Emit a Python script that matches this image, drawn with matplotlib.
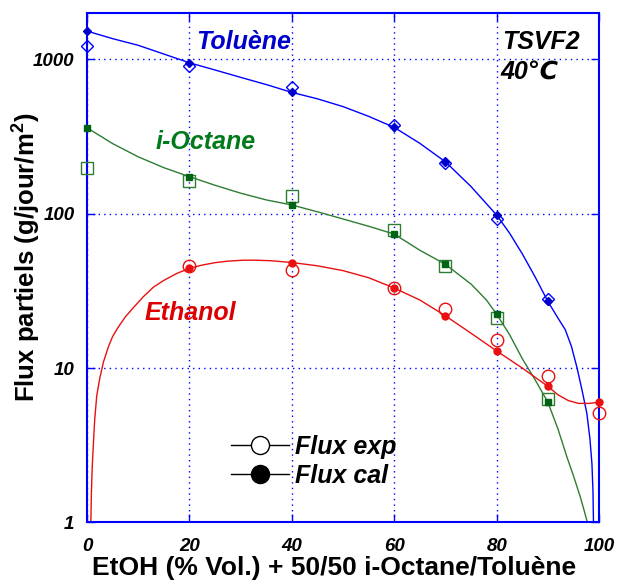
import matplotlib
matplotlib.use("Agg")
import matplotlib.pyplot as plt
from matplotlib.lines import Line2D
from matplotlib.ticker import FixedLocator, NullLocator

plt.rcParams["font.family"] = ["Liberation Sans", "DejaVu Sans"]
plt.rcParams["mathtext.fontset"] = "custom"
plt.rcParams["mathtext.bf"] = "Liberation Sans:bold"
plt.rcParams["mathtext.rm"] = "Liberation Sans:bold"

# measured points (x = EtOH % vol.)
X_PTS = [0, 20, 40, 60, 70, 80, 90]
X_ETOH = [20, 40, 60, 70, 80, 90, 100]

tol_exp = [1222, 906, 659, 376, 214, 92, 28]
tol_cal = [1528, 952, 612, 363, 217, 98, 27]
oct_exp = [197, 163, 130, 79, 46, 21, 6.3]
oct_cal = [361, 174, 114, 73.8, 47, 22.3, 6.0]
eth_exp = [46, 43, 33, 24, 15.2, 8.9, 5.1]
eth_cal = [44.3, 48.1, 33, 21.8, 12.9, 7.6, 6.0]

# model curves
tol_curve_x = [0, 5, 10, 15, 20, 25, 30, 35, 40, 45, 50, 55, 60, 65, 70, 75, 80, 82.5,
               85, 87.5, 90, 92, 93.4, 94.6, 95.7, 96.7, 97.6, 98.2, 98.6, 98.8, 98.9]
tol_curve_y = [1528, 1365, 1236, 1085, 952, 855, 766, 688, 612, 556, 495, 428, 363, 286,
               217, 150, 98, 75, 55, 39, 27, 21, 17.7, 13.8, 10, 7.1, 5.1, 3.5, 2.4, 1.6, 1.0]

oct_curve_x = [0, 5, 10, 15, 20, 25, 30, 35, 40, 45, 50, 55, 60, 65, 70, 75, 78, 80,
               82.5, 85, 87.5, 90, 92, 93.7, 95, 96.3, 97, 97.7]
oct_curve_y = [361, 285, 234, 199, 174, 153, 136, 123, 114, 103, 92.5, 83, 73.8, 58, 47,
               35, 27.6, 22.3, 16.5, 11.5, 8.4, 6.0, 4.0, 2.66, 2.0, 1.47, 1.22, 1.0]

eth_curve_x = [0.75, 0.85, 1.0, 1.2, 1.5, 1.9, 2.5, 3.2, 4.2, 5.0, 6.0, 7.5, 9.0, 11, 13,
               15, 17.5, 20, 22.5, 25, 27.5, 30.5, 33, 36, 40, 45, 50, 55, 60, 65, 70,
               75, 80, 85, 90, 92, 94, 96, 98, 100]
eth_curve_y = [1.0, 1.5, 2.2, 3.0, 4.6, 6.6, 8.6, 10.9, 13.8, 16, 18.2, 21.5, 24.5, 29,
               33.5, 37, 41, 44.3, 46.5, 48.2, 49.3, 50, 50, 49.6, 48.3, 46, 42.8, 38.5,
               33, 27.6, 21.8, 16.8, 12.9, 10, 7.6, 6.7, 6.15, 5.9, 5.9, 6.0]

X_TICKS = [0, 20, 40, 60, 80, 100]
Y_TICKS = [1, 10, 100, 1000]

BLUE = "#0000ff"
GREEN = "#2e7d32"
DGREEN = "#006414"
RED = "#e81010"

fig = plt.figure(figsize=(6.17, 5.88), dpi=100)
ax = fig.add_axes([0.141, 0.1117, 0.830, 0.8661])

mk = dict(ls="none", clip_on=False, zorder=3)

# Toluene
ax.plot(tol_curve_x, tol_curve_y, color=BLUE, lw=1)
ax.plot(X_PTS, tol_exp, marker="D", ms=6.5, mfc="none", mec=BLUE, mew=1, **mk)
ax.plot(X_PTS, tol_cal, marker="D", ms=4, mfc="#0000cc", mec="#0000cc", **mk)

# i-Octane
ax.plot(oct_curve_x, oct_curve_y, color=GREEN, lw=1)
ax.plot(X_PTS, oct_exp, marker="s", ms=8.5, mfc="none", mec=GREEN, mew=1, **mk)
ax.plot(X_PTS, oct_cal, marker="s", ms=5, mfc=DGREEN, mec=DGREEN, **mk)

# Ethanol
ax.plot(eth_curve_x, eth_curve_y, color=RED, lw=1)
ax.plot(X_ETOH, eth_exp, marker="o", ms=9, mfc="none", mec=RED, mew=1, **mk)
ax.plot(X_ETOH, eth_cal, marker="o", ms=5, mfc=RED, mec=RED, **mk)

ax.set_yscale("log")
ax.set_xlim(0, 100)
ax.set_ylim(1, 2000)
ax.xaxis.set_major_locator(FixedLocator(X_TICKS))
ax.yaxis.set_major_locator(FixedLocator(Y_TICKS))
ax.yaxis.set_minor_locator(NullLocator())
ax.set_xticklabels([str(t) for t in X_TICKS])
ax.set_yticklabels([str(t) for t in Y_TICKS])

ax.grid(True, color=BLUE, ls=(0, (1, 3)), lw=1)
for s in ax.spines.values():
    s.set_color(BLUE)
    s.set_linewidth(1.5)
ax.tick_params(which="both", direction="in", colors=BLUE, length=6, width=1,
               top=True, right=True, labelcolor="black")
ax.tick_params(axis="x", pad=11)
ax.tick_params(axis="y", pad=9)
for lab in ax.get_xticklabels() + ax.get_yticklabels():
    lab.set_fontsize(13.5)
    lab.set_fontweight("bold")
    lab.set_fontstyle("italic")

ax.set_xlabel("EtOH (% Vol.) + 50/50 i-Octane/Toluène", fontsize=19, fontweight="bold")
ax.set_ylabel(r"Flux partiels (g/jour/m$^{\mathbf{2}}$)", fontsize=18.5, fontweight="bold")
ax.xaxis.set_label_coords(0.482, -0.067)
ax.yaxis.set_label_coords(-0.088, 0.52)

lbl = dict(fontsize=18, fontweight="bold", fontstyle="italic", ha="center", va="center")
ax.text(30.5, 1297, "Toluène", color="#0000cc", **lbl)
ax.text(23.2, 293, "i-Octane", color="#007a1a", **lbl)
ax.text(20.2, 22.6, "Ethanol", color="#dd0000", **lbl)
ax.text(0.81, 0.944, "TSVF2", transform=ax.transAxes, color="black",
        fontsize=18, fontweight="bold", fontstyle="italic", ha="left", va="center")
ax.text(0.807, 0.885, "40℃", transform=ax.transAxes, color="black",
        fontsize=18, fontweight="bold", fontstyle="italic", ha="left", va="center")

handles = [
    Line2D([], [], color="black", lw=1, marker="o", ms=13, mfc="white", mec="black"),
    Line2D([], [], color="black", lw=1, marker="o", ms=13, mfc="black", mec="black"),
]
leg = ax.legend(handles, ["Flux exp", "Flux cal"], loc="upper left",
                bbox_to_anchor=(0.282, 0.172), frameon=False, handlelength=2.3,
                handletextpad=0.25, labelspacing=0.2, borderpad=0, borderaxespad=0,
                prop=dict(size=18, weight="bold", style="italic"))

fig.savefig("out.png", dpi=100)
